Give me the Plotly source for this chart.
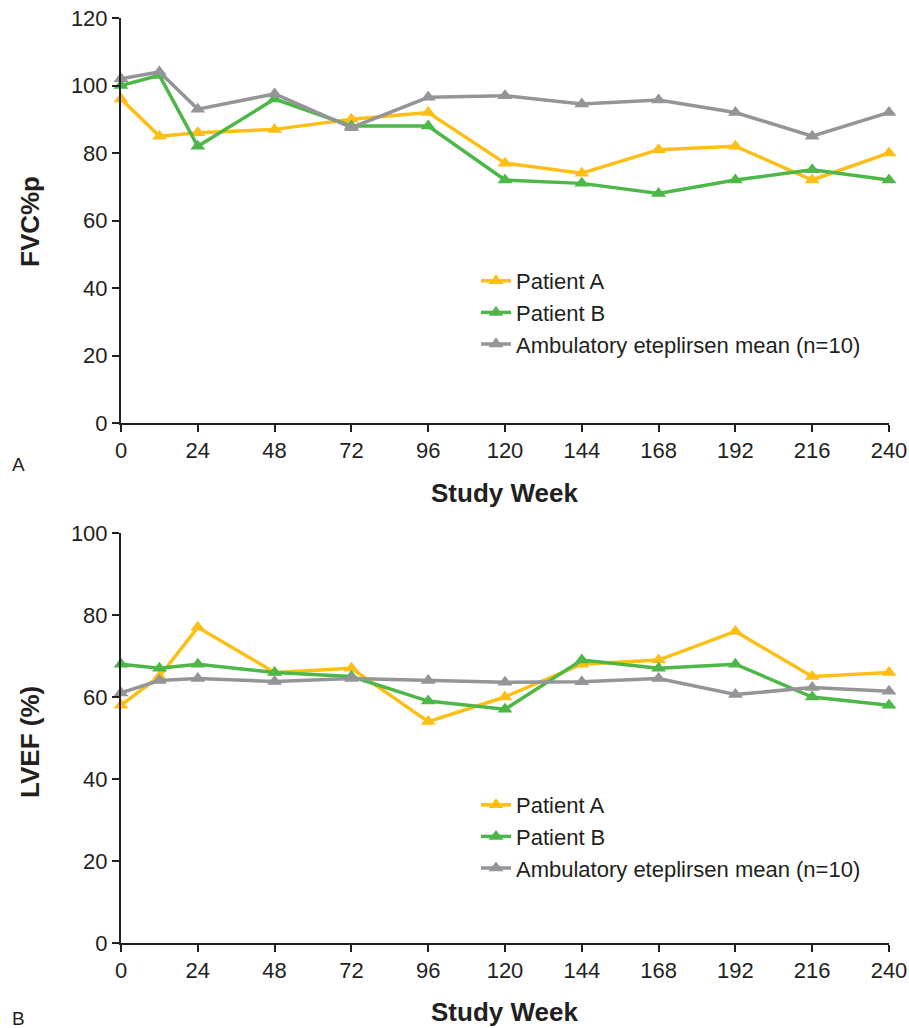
import plotly.graph_objects as go

weeks = [0, 12, 24, 48, 72, 96, 120, 144, 168, 192, 216, 240]

fvc_a = [96, 85, 86, 87, 90, 92, 77, 74, 81, 82, 72, 80]
fvc_b = [100, 103, 82, 96, 88, 88, 72, 71, 68, 72, 75, 72]
fvc_mean = [102, 104, 93, 97.5, 87.5, 96.5, 97, 94.5, 95.7, 92, 85, 92]

lvef_a = [58, 65, 77, 66, 67, 54, 60, 68, 69, 76, 65, 66]
lvef_b = [68, 67, 68, 66, 65, 59, 57, 69, 67, 68, 60, 58]
lvef_mean = [61, 64, 64.5, 63.8, 64.5, 64, 63.6, 63.7, 64.5, 60.6, 62.3, 61.4]

names = ["Patient A", "Patient B", "Ambulatory eteplirsen mean (n=10)"]
colors = ["#FDBE16", "#4DB848", "#939598"]
x_ticks = [0, 24, 48, 72, 96, 120, 144, 168, 192, 216, 240]

FONT = "Liberation Sans, Arial"
INK = "#231F20"

fig = go.Figure()

for series, i in [(fvc_a, 0), (fvc_b, 1), (fvc_mean, 2)]:
    fig.add_trace(go.Scatter(
        x=weeks, y=series, name=names[i], mode="lines+markers",
        line=dict(color=colors[i], width=3.5),
        marker=dict(symbol="triangle-up", size=13, color=colors[i]),
        cliponaxis=False, xaxis="x", yaxis="y", legend="legend",
    ))
for series, i in [(lvef_a, 0), (lvef_b, 1), (lvef_mean, 2)]:
    fig.add_trace(go.Scatter(
        x=weeks, y=series, name=names[i], mode="lines+markers",
        line=dict(color=colors[i], width=3.5),
        marker=dict(symbol="triangle-up", size=13, color=colors[i]),
        cliponaxis=False, xaxis="x2", yaxis="y2", legend="legend2",
    ))

axis_common = dict(
    showline=True, linecolor=INK, linewidth=2, ticks="outside",
    tickcolor=INK, tickwidth=1.5, ticklen=7, showgrid=False, zeroline=False,
    tickfont=dict(family=FONT, size=22, color=INK), ticklabeloverflow="allow",
    automargin=False,
)

L, R, T, B = 121, 20, 18, 85
PW = 909 - L - R
PH = 1028 - T - B


def px(xp):
    return (xp - L) / PW


def py(yp):
    return (1028 - B - yp) / PH


top_dom = [py(423), py(18)]
bot_dom = [py(943), py(533)]

legend_font = dict(family=FONT, size=22, color=INK)

fig.update_layout(
    width=909, height=1028,
    margin=dict(l=L, r=R, t=T, b=B, autoexpand=False),
    paper_bgcolor="white", plot_bgcolor="white",
    showlegend=True,
    xaxis=dict(domain=[0, 1], range=[0, 240], tickvals=x_ticks, anchor="y", **axis_common),
    yaxis=dict(domain=top_dom, range=[0, 120], dtick=20, anchor="x", **axis_common),
    xaxis2=dict(domain=[0, 1], range=[0, 240], tickvals=x_ticks, anchor="y2", **axis_common),
    yaxis2=dict(domain=bot_dom, range=[0, 100], dtick=20, anchor="x2", **axis_common),
    legend=dict(x=px(476), y=py(260), xanchor="left", yanchor="top",
                font=legend_font, bgcolor="rgba(0,0,0,0)", itemwidth=30),
    legend2=dict(x=px(476), y=py(784), xanchor="left", yanchor="top",
                 font=legend_font, bgcolor="rgba(0,0,0,0)", itemwidth=30),
)

title_font = dict(family=FONT, size=26, color=INK)
ann = [
    dict(text="<b>FVC%p</b>", x=30, y=222, textangle=-90),
    dict(text="<b>LVEF (%)</b>", x=30, y=742, textangle=-90),
    dict(text="<b>Study Week</b>", x=504, y=493, textangle=0),
    dict(text="<b>Study Week</b>", x=504, y=1012, textangle=0),
]
for a in ann:
    fig.add_annotation(text=a["text"], xref="paper", yref="paper",
                       x=px(a["x"]), y=py(a["y"]),
                       xanchor="center", yanchor="middle", textangle=a["textangle"],
                       showarrow=False, font=title_font)
for lbl, yy in [("A", 465), ("B", 1018)]:
    fig.add_annotation(text=lbl, xref="paper", yref="paper",
                       x=px(18), y=py(yy),
                       xanchor="center", yanchor="middle", showarrow=False,
                       font=dict(family=FONT, size=19, color=INK))

fig.write_html("out.html")
